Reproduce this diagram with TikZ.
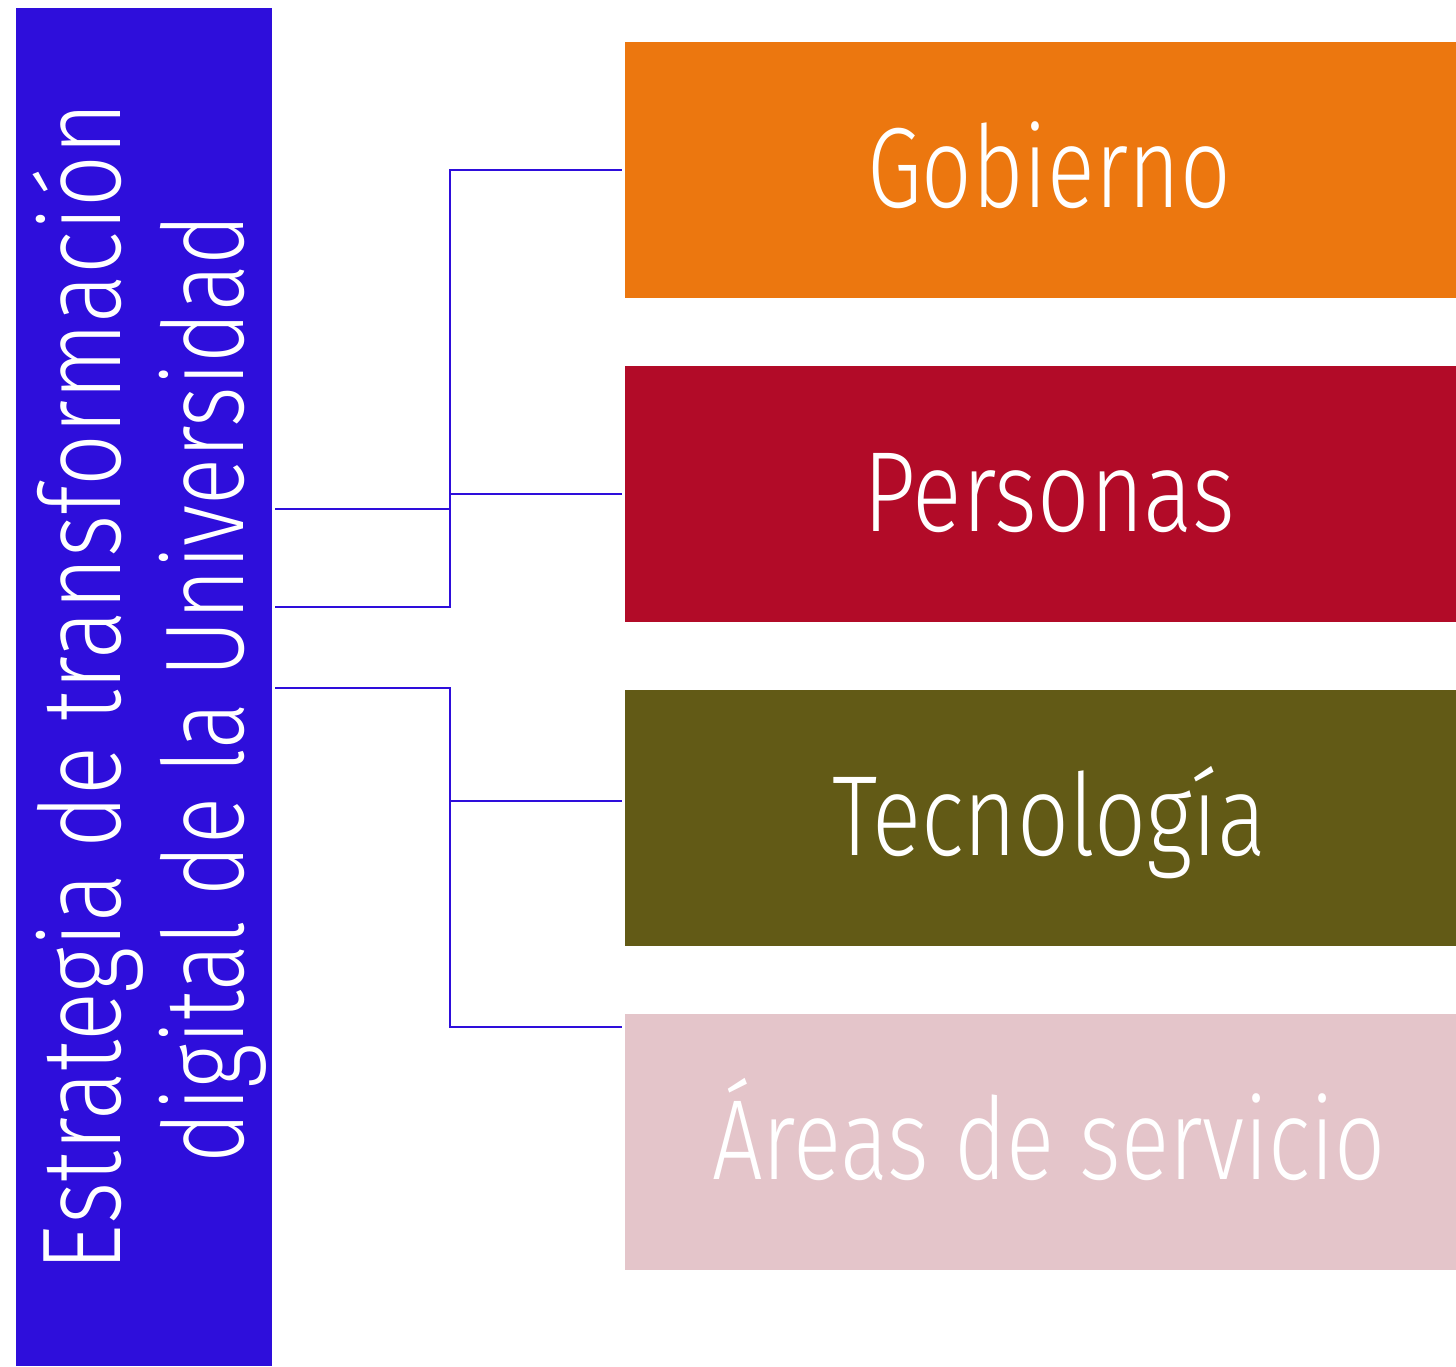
\documentclass[tikz,border=0pt]{standalone}
\usepackage{fontspec}
\setmainfont{Fira Sans}[UprightFont=* Light]
\usetikzlibrary{calc}
\definecolor{lblue}{HTML}{2E0EDB}
\definecolor{gob}{HTML}{EC770F}
\definecolor{per}{HTML}{B20B28}
\definecolor{tec}{HTML}{625A16}
\definecolor{are}{HTML}{E4C5CA}
\newcommand{\fitto}[2]{\resizebox{#1}{\height}{#2}}
\begin{document}
\begin{tikzpicture}[x=0.5pt,y=-0.5pt,
  catbox/.style={rectangle, draw=none, inner sep=0pt, minimum width=424pt, minimum height=128pt,
    text height=37pt, text depth=0pt, text=white, font=\fontsize{57}{60}\selectfont},
  rotlbl/.style={rotate=90, anchor=base, inner sep=0pt, text=white, font=\fontsize{56}{60}\selectfont},
  conn/.style={draw=lblue, line width=1.1pt}]
\useasboundingbox (0,0) rectangle (1456,1366);
\clip (0,0) rectangle (1456,1366);
% left box
\node[fill=lblue, inner sep=0pt, minimum width=128pt, minimum height=679pt] (L) at (144,687) {};
\node[rotlbl] (t1) at (120,686.5) {\fitto{584.5pt}{Estrategia de transformación}};
\node[rotlbl] (t2) at (243,688.5) {\fitto{474.5pt}{digital de la Universidad}};
% right boxes
\node[catbox, fill=gob] (G) at (1049,170) {\fitto{182pt}{Gobierno}};
\node[catbox, fill=per] (P) at (1049,494) {\fitto{186pt}{Personas}};
\node[catbox, fill=tec] (T) at (1049,818) {\fitto{217pt}{Tecnología}};
\node[catbox, fill=are] (A) at (1049,1142) {\fitto{337pt}{Áreas de servicio}};
% connector start points on the left box
\coordinate (s1) at (275,509);
\coordinate (s2) at (275,607);
\coordinate (s3) at (275,688);
% connectors
\draw[conn] (s1) -| ([xshift=-87.5pt]G.west) -- ([xshift=-1.5pt]G.west);
\draw[conn] (s2) -| ([xshift=-87.5pt]P.west) -- ([xshift=-1.5pt]P.west);
\draw[conn] (s3) -| ([xshift=-87.5pt,yshift=8.5pt]T.west) -- ([xshift=-1.5pt,yshift=8.5pt]T.west);
\draw[conn] (s3) -| ([xshift=-87.5pt,yshift=57.5pt]A.west) -- ([xshift=-1.5pt,yshift=57.5pt]A.west);
\end{tikzpicture}
\end{document}
